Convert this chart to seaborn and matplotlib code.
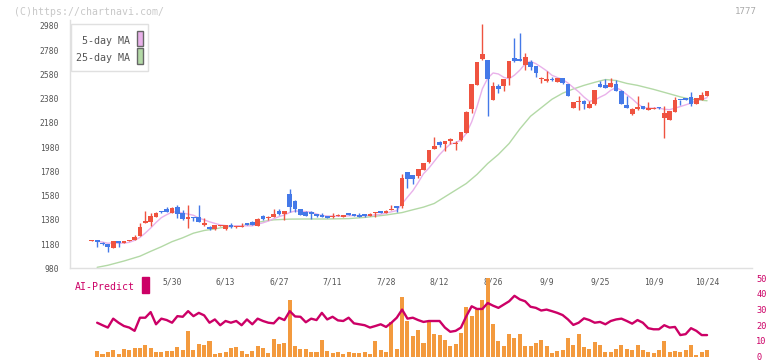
import matplotlib
matplotlib.use("Agg")
import matplotlib.pyplot as plt
import matplotlib.patches as mpatches
import numpy as np
import pandas as pd
import seaborn as sns

# Daily candles, 116 trading days ending 10/24.
opens = [1208, 1211, 1192, 1180, 1150, 1205, 1192, 1205, 1214, 1247,
         1357, 1365, 1406, 1453, 1469, 1436, 1489, 1434, 1387, 1403,
         1401, 1337, 1324, 1302, 1329, 1302, 1337, 1318, 1324, 1351,
         1365, 1332, 1412, 1398, 1406, 1453, 1425, 1593, 1538, 1470,
         1448, 1448, 1428, 1420, 1412, 1401, 1410, 1406, 1437, 1428,
         1420, 1428, 1415, 1434, 1453, 1439, 1459, 1494, 1497, 1775,
         1750, 1745, 1791, 1857, 1965, 2025, 2006, 2030, 2008, 2035,
         2100, 2295, 2496, 2708, 2699, 2369, 2485, 2485, 2551, 2713,
         2708, 2658, 2683, 2650, 2545, 2529, 2541, 2521, 2551, 2501,
         2306, 2353, 2364, 2306, 2333, 2501, 2493, 2479, 2501, 2446,
         2328, 2253, 2295, 2319, 2286, 2299, 2304, 2223, 2204, 2273,
         2371, 2385, 2394, 2336, 2369, 2405]
highs = [1212, 1211, 1193, 1181, 1206, 1206, 1208, 1214, 1255, 1351,
         1453, 1434, 1447, 1455, 1489, 1482, 1502, 1461, 1502, 1404,
         1502, 1392, 1329, 1340, 1340, 1338, 1351, 1331, 1351, 1353,
         1367, 1392, 1420, 1408, 1467, 1467, 1455, 1634, 1540, 1472,
         1450, 1450, 1430, 1434, 1414, 1439, 1428, 1422, 1439, 1430,
         1434, 1430, 1439, 1447, 1455, 1458, 1503, 1496, 1758, 1778,
         1752, 1802, 1848, 1958, 2065, 2027, 2033, 2055, 2030, 2107,
         2275, 2503, 2685, 2996, 2701, 2521, 2501, 2545, 2693, 2881,
         2922, 2757, 2699, 2652, 2562, 2609, 2562, 2553, 2553, 2503,
         2355, 2402, 2366, 2364, 2454, 2528, 2542, 2550, 2534, 2448,
         2402, 2306, 2402, 2321, 2352, 2310, 2311, 2319, 2280, 2394,
         2373, 2387, 2435, 2387, 2435, 2445]
lows = [1206, 1159, 1176, 1117, 1148, 1159, 1190, 1203, 1212, 1245,
        1351, 1332, 1404, 1440, 1445, 1434, 1392, 1379, 1310, 1370,
        1365, 1332, 1300, 1300, 1327, 1300, 1316, 1316, 1322, 1335,
        1335, 1330, 1382, 1379, 1404, 1423, 1379, 1447, 1442, 1418,
        1410, 1387, 1401, 1404, 1396, 1399, 1408, 1404, 1418, 1413,
        1404, 1406, 1413, 1401, 1434, 1437, 1458, 1448, 1481, 1646,
        1673, 1723, 1789, 1846, 1963, 1984, 1951, 2006, 1956, 2033,
        2098, 2265, 2494, 2700, 2237, 2367, 2430, 2446, 2496, 2686,
        2689, 2617, 2617, 2562, 2512, 2521, 2529, 2519, 2505, 2403,
        2304, 2290, 2298, 2304, 2331, 2477, 2469, 2477, 2444, 2334,
        2304, 2245, 2286, 2293, 2284, 2292, 2298, 2055, 2202, 2271,
        2328, 2367, 2319, 2334, 2367, 2403]
closes = [1211, 1197, 1180, 1159, 1205, 1192, 1205, 1211, 1241, 1324,
          1373, 1412, 1439, 1442, 1447, 1480, 1425, 1384, 1401, 1399,
          1365, 1351, 1302, 1337, 1337, 1337, 1318, 1329, 1332, 1337,
          1337, 1387, 1384, 1406, 1431, 1425, 1453, 1489, 1467, 1420,
          1412, 1428, 1415, 1406, 1398, 1412, 1414, 1420, 1420, 1415,
          1406, 1412, 1428, 1445, 1439, 1456, 1463, 1478, 1728, 1714,
          1717, 1800, 1846, 1956, 1992, 1998, 2031, 2050, 2012, 2105,
          2270, 2501, 2683, 2749, 2543, 2485, 2460, 2543, 2691, 2691,
          2691, 2724, 2644, 2595, 2550, 2540, 2538, 2551, 2512, 2405,
          2353, 2364, 2333, 2336, 2452, 2479, 2471, 2509, 2446, 2336,
          2306, 2295, 2311, 2295, 2306, 2301, 2300, 2262, 2278, 2369,
          2367, 2369, 2336, 2385, 2410, 2443]

# Volume (in units of the lower panel scale) and AI-Predict score.
volume = [0, 3.6, 1.7, 2.9, 4.2, 1.7, 4.8, 4.0, 5.4, 5.4,
          7.1, 5.4, 2.9, 2.9, 3.6, 3.6, 5.9, 4.2, 16.1, 4.2,
          8.0, 7.3, 9.9, 1.7, 2.3, 2.9, 5.4, 5.9, 3.6, 1.7,
          3.6, 6.7, 5.4, 2.3, 11.1, 8.0, 8.6, 36.3, 6.8, 4.8,
          4.8, 2.9, 2.9, 10.7, 3.6, 2.3, 2.9, 1.7, 2.9, 2.3,
          2.3, 2.9, 1.7, 9.9, 4.2, 2.9, 21.8, 4.8, 38.1, 22.6,
          13.0, 16.8, 8.6, 22.2, 14.3, 13.6, 10.5, 6.7, 8.0, 14.9,
          31.9, 25.6, 30.6, 36.3, 50.1, 20.5, 9.9, 6.7, 14.3, 11.7,
          14.3, 6.7, 6.7, 8.6, 10.7, 6.7, 2.3, 3.6, 4.2, 11.7,
          7.3, 14.3, 6.1, 4.8, 9.2, 7.3, 2.9, 2.9, 4.8, 7.3,
          4.8, 4.2, 7.3, 4.2, 2.9, 2.3, 4.2, 9.9, 2.9, 3.6,
          2.9, 4.2, 7.3, 1.0, 2.9, 4.2]
ai_predict = [21.6, 20.0, 18.5, 24.2, 21.6, 19.5, 18.5, 16.4, 24.8,
              24.8, 28.4, 20.6, 24.2, 23.3, 21.6, 25.8, 25.4, 29.0, 25.8,
              27.9, 26.3, 21.6, 23.7, 20.0, 22.7, 21.6, 22.7, 20.0, 23.7,
              20.6, 24.2, 22.7, 21.6, 21.2, 24.8, 23.3, 29.0, 25.6, 25.4,
              21.9, 24.2, 23.3, 27.9, 23.7, 25.4, 23.1, 22.7, 24.8, 21.2,
              20.6, 20.0, 18.5, 19.5, 20.6, 18.9, 21.6, 24.8, 30.0, 24.2,
              24.8, 23.3, 22.1, 22.7, 22.7, 22.7, 18.5, 15.8, 16.4, 18.5,
              25.8, 32.1, 30.4, 30.4, 34.2, 32.5, 31.1, 33.2, 35.3, 38.8,
              36.5, 35.3, 31.8, 31.1, 29.4, 30.0, 29.0, 27.9, 26.5, 23.7,
              20.2, 21.6, 24.4, 23.3, 21.6, 22.1, 20.6, 22.7, 23.7, 24.2,
              22.7, 21.0, 23.3, 21.6, 18.1, 17.4, 17.4, 20.0, 18.5, 18.9,
              13.7, 14.3, 18.1, 16.4, 13.7, 13.7]

# 25-day moving average, read at sample days.
ma25_day = [1, 3, 6, 9, 11, 13, 15, 17, 19, 21, 23, 25, 28, 31, 34, 37, 40,
            44, 48, 51, 55, 58, 60, 62, 64, 66, 68, 70, 72, 74, 76, 78, 80,
            82, 84, 86, 88, 90, 92, 94, 96, 98, 100, 102, 105, 108, 110, 112,
            115]
ma25_val = [988, 1005, 1040, 1080, 1120, 1158, 1200, 1232, 1270, 1292, 1305,
            1322, 1330, 1360, 1380, 1386, 1387, 1387, 1390, 1400, 1420, 1440,
            1463, 1485, 1515, 1570, 1625, 1680, 1755, 1845, 1920, 2010, 2130,
            2235, 2305, 2375, 2425, 2460, 2490, 2515, 2538, 2530, 2506, 2490,
            2457, 2420, 2395, 2375, 2363]

date_pos = [15, 25, 35, 45, 55, 65, 75, 85, 95, 105, 115]
date_labels = ["5/30", "6/13", "6/27", "7/11", "7/28", "8/12", "8/26",
               "9/9", "9/25", "10/9", "10/24"]
price_ticks = [980, 1180, 1380, 1580, 1780, 1980, 2180, 2380, 2580, 2780, 2980]
ai_ticks = [0, 10, 20, 30, 40, 50]

RED = "#ef5340"
BLUE = "#4479e8"
PINK = "#e9b1ea"
GREEN = "#b3d9a6"
ORANGE = "#f39a3e"
MAGENTA = "#cc0066"
GRID = "#e0e0e0"
TEXT = "#555555"

df = pd.DataFrame({"open": opens, "high": highs, "low": lows, "close": closes,
                   "volume": volume})
df["day"] = np.arange(len(df))
df["ma5"] = df["close"].rolling(5, min_periods=1).mean()
ai_df = pd.DataFrame({"day": np.arange(1, len(df)), "ai": ai_predict})
ma25_df = pd.DataFrame({"day": ma25_day, "ma25": ma25_val})

sns.set_style("white")
plt.rcParams["font.family"] = ["DejaVu Sans Mono"]

W, H = 772, 361
fig = plt.figure(figsize=(W / 100, H / 100), dpi=100)
ax = fig.add_axes([70 / W, 1 - 268.3 / H, 682 / W, 248.3 / H])
ax2 = fig.add_axes([70 / W, 1 - 356.5 / H, 682 / W, 78.2 / H])
ax2.patch.set_alpha(0)

xlim = (-4.075, 123.4)

# Price panel
sns.lineplot(data=ma25_df, x="day", y="ma25", ax=ax, color=GREEN, linewidth=1, zorder=1)
sns.lineplot(data=df.iloc[1:], x="day", y="ma5", ax=ax, color=PINK, linewidth=1, zorder=1)
colors = np.where(df["close"] >= df["open"], RED, BLUE)
ax.vlines(df["day"], df["low"], df["high"], colors=colors, linewidth=1, zorder=2)
body = (df["close"] - df["open"]).abs().clip(lower=8)
ax.bar(df["day"], body, bottom=np.minimum(df["open"], df["close"]), width=0.88,
       color=colors, linewidth=0, zorder=3)

ax.set_xlim(*xlim)
ax.set_ylim(980, 3029.5)
ax.set_yticks(price_ticks)
ax.set_xticks(xlim[0] + (xlim[1] - xlim[0]) / 11 * np.arange(1, 12))
ax.set_xticklabels([])
ax.set_xlabel("")
ax.set_ylabel("")
ax.tick_params(axis="both", direction="inout", length=7, width=1, color=GRID,
               labelsize=5.8, labelcolor=TEXT, pad=4.2)
for side in ["top", "right"]:
    ax.spines[side].set_visible(False)
for side in ["left", "bottom"]:
    ax.spines[side].set_color(GRID)
    ax.spines[side].set_linewidth(1)

for pos, lab in zip(date_pos, date_labels):
    ax.text(pos, -0.055, lab, transform=ax.get_xaxis_transform(), ha="center",
            va="center", fontsize=5.8, color=TEXT)

# Volume / AI-Predict panel
ax2.bar(df["day"], df["volume"], width=0.75, color=ORANGE, linewidth=0, zorder=1)
sns.lineplot(data=ai_df, x="day", y="ai", ax=ax2, color=MAGENTA, linewidth=1.7, zorder=2)
ax2.set_xlim(*xlim)
ax2.set_ylim(0, 50)
ax2.set_xticks([])
ax2.set_yticks(ai_ticks)
ax2.yaxis.tick_right()
ax2.tick_params(axis="y", length=0, labelsize=6.2, labelcolor=MAGENTA, pad=3)
ax2.set_xlabel("")
ax2.set_ylabel("")
for s in ax2.spines.values():
    s.set_visible(False)

# Legend box
fig.add_artist(mpatches.Rectangle((70.7 / W, 1 - 71 / H), 77.6 / W, 47 / H,
                                  transform=fig.transFigure, facecolor="white",
                                  edgecolor=GRID, linewidth=1, zorder=5))
for y0, col, lab in [(31, PINK, "5-day MA"), (48.3, GREEN, "25-day MA")]:
    fig.add_artist(mpatches.Rectangle((136.5 / W, 1 - (y0 + 15.2) / H), 6 / W, 15.2 / H,
                                      transform=fig.transFigure, facecolor=col,
                                      edgecolor="#666666", linewidth=1, zorder=6))
    fig.text(129.5 / W, 1 - (y0 + 9.5) / H, lab, ha="right", va="center",
             fontsize=7.2, color=TEXT, zorder=6)

# AI-Predict label
fig.text(75 / W, 1 - 286.5 / H, "AI-Predict", ha="left", va="center",
         fontsize=7.1, color=MAGENTA)
fig.add_artist(mpatches.Rectangle((142.3 / W, 1 - 292.7 / H), 6.4 / W, 16 / H,
                                  transform=fig.transFigure, color=MAGENTA))

# Header texts
fig.text(14 / W, 1 - 12 / H, "(C)https://chartnavi.com/", ha="left", va="center",
         fontsize=7.1, color="#c8c8c8")
fig.text(757 / W, 1 - 12 / H, "1777", ha="right", va="center", fontsize=6.6,
         color="#aaaaaa")

fig.savefig("out.png", dpi=100)
